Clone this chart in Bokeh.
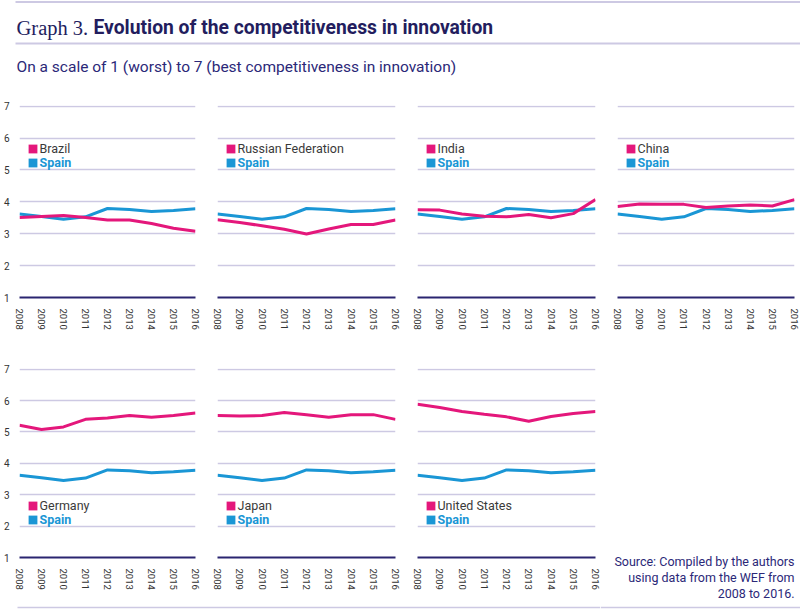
from bokeh.plotting import figure
from bokeh.models import Range1d, FixedTicker, Legend, LegendItem
from bokeh.layouts import column, row
from bokeh.embed import file_html
from bokeh.resources import INLINE
from bokeh.core.properties import value

# ---------------- data ----------------
years = [2008, 2009, 2010, 2011, 2012, 2013, 2014, 2015, 2016]
spain = [3.62, 3.54, 3.45, 3.53, 3.79, 3.76, 3.70, 3.73, 3.78]
brazil = [3.51, 3.54, 3.57, 3.51, 3.43, 3.43, 3.32, 3.17, 3.08]
russia = [3.44, 3.35, 3.25, 3.14, 2.99, 3.15, 3.29, 3.29, 3.43]
india = [3.75, 3.74, 3.62, 3.55, 3.53, 3.60, 3.50, 3.63, 4.07]
china = [3.85, 3.93, 3.92, 3.92, 3.82, 3.87, 3.90, 3.87, 4.07]
germany = [5.21, 5.08, 5.16, 5.40, 5.44, 5.52, 5.47, 5.52, 5.60]
japan = [5.52, 5.51, 5.52, 5.62, 5.55, 5.47, 5.55, 5.55, 5.40]
usa = [5.88, 5.78, 5.65, 5.56, 5.48, 5.34, 5.49, 5.59, 5.65]

country_names = ["Brazil", "Russian Federation", "India", "China",
                 "Germany", "Japan", "United States"]
country_values = [brazil, russia, india, china, germany, japan, usa]
reference_name = "Spain"

y_ticks = [1, 2, 3, 4, 5, 6, 7]
x_ticks = years

title_prefix = "Graph 3."
title_main = "Evolution of the competitiveness in innovation"
subtitle = "On a scale of 1 (worst) to 7 (best competitiveness in innovation)"
source_lines = ["Source: Compiled by the authors",
                "using data from the WEF from",
                "2008 to 2016."]

# ---------------- style ----------------
PINK = "#e4177b"
BLUE = "#1a96d5"
TITLE_NAVY = "#231d5e"
TEXT_NAVY = "#2b2878"
GRID = "#cdc9e3"
AXIS = "#2a2570"
TICK = "#333333"
SANS = "Roboto"

W_TOTAL = 800
PITCH = 200
L_BORDER = 17
FRAME_W = [178, 178, 178, 177]
ROW_TOP = [5, 23]
ROW_FRAME = [192, 191]
ROW_BOTTOM = [48, 33]
LEGEND_Y = [(141.3, 127.3), (44.1, 30.5)]


def blank(width, height, xr, yr):
    f = figure(width=width, height=height, x_range=xr, y_range=yr,
               output_backend="svg", toolbar_location=None,
               x_axis_type=None, y_axis_type=None, min_border=0)
    f.outline_line_color = None
    f.grid.visible = False
    return f


# ---------------- header ----------------
HH = 100
header = blank(W_TOTAL, HH, Range1d(0, W_TOTAL), Range1d(HH, 0))
header.segment(x0=[15, 15], y0=[1.5, 43], x1=[W_TOTAL, W_TOTAL], y1=[1.5, 43],
               line_color=GRID, line_width=1.8)
header.text(x=[16], y=[27.3], text=[title_prefix], text_font=value("Liberation Serif"),
            text_font_size="20.5px", text_color=TITLE_NAVY, text_baseline="alphabetic")
header.text(x=[93], y=[27.3], text=[title_main], text_font=value(SANS),
            text_font_style="bold", text_font_size="19.3px", text_color=TITLE_NAVY,
            text_baseline="alphabetic")
header.text(x=[16], y=[66.5], text=[subtitle], text_font=value(SANS),
            text_font_size="15.5px", text_color=TEXT_NAVY, text_baseline="alphabetic")


# ---------------- panels ----------------
def panel(name, vals, col, r):
    width = PITCH
    top, fh, bottom = ROW_TOP[r], ROW_FRAME[r], ROW_BOTTOM[r]
    p = figure(width=width, height=top + fh + bottom,
               x_range=Range1d(2008, 2016), y_range=Range1d(1, 7.02),
               output_backend="svg", toolbar_location=None,
               min_border_left=L_BORDER, min_border_right=width - L_BORDER - FRAME_W[col],
               min_border_top=top, min_border_bottom=bottom)
    p.outline_line_color = None
    p.background_fill_color = "white"
    p.xgrid.visible = False
    p.ygrid.grid_line_color = GRID
    p.ygrid.grid_line_width = 1.3

    p.xaxis.ticker = FixedTicker(ticks=x_ticks)
    p.yaxis.ticker = FixedTicker(ticks=y_ticks)
    p.xaxis.axis_line_color = AXIS
    p.xaxis.axis_line_width = 2
    for ax in (p.xaxis, p.yaxis):
        ax.major_tick_line_color = None
        ax.minor_tick_line_color = None
        ax.major_label_text_font = SANS
        ax.major_label_text_color = TICK
    p.xaxis.major_label_text_font_size = "9.5px"
    p.yaxis.major_label_text_font_size = "10px"
    p.xaxis.major_label_orientation = "vertical"
    p.xaxis.major_label_standoff = 5
    p.yaxis.axis_line_color = None
    p.yaxis.major_label_standoff = 4
    if col != 0:
        p.yaxis.visible = False

    p.line(years, spain, line_color=BLUE, line_width=3)
    p.line(years, vals, line_color=PINK, line_width=3)

    # hidden area renderers that only supply the square legend keys
    key_c = p.quad(left=years, right=years, bottom=vals, top=vals,
                   fill_color=PINK, line_color=None, visible=False)
    key_s = p.quad(left=years, right=years, bottom=spain, top=spain,
                   fill_color=BLUE, line_color=None, visible=False)

    cy, sy = LEGEND_Y[r]
    common = dict(padding=0, margin=0, spacing=0, border_line_color=None,
                  background_fill_alpha=0, glyph_width=11, glyph_height=11,
                  label_height=11, label_standoff=2,
                  label_text_font=SANS, label_text_font_size="12.5px")
    lc = Legend(items=[LegendItem(label=name, renderers=[key_c])],
                location=(7.5, cy), label_text_color="#3a3a3a", **common)
    ls = Legend(items=[LegendItem(label=reference_name, renderers=[key_s])],
                location=(7.5, sy), label_text_color=BLUE,
                label_text_font_style="bold", **common)
    p.add_layout(lc)
    p.add_layout(ls)
    return p


panels = [panel(n, v, i % 4, i // 4) for i, (n, v) in enumerate(zip(country_names, country_values))]

ROW2_H = ROW_TOP[1] + ROW_FRAME[1] + ROW_BOTTOM[1]
FH = 17

# footer rule under the three lower panels
footer_left = blank(3 * PITCH, FH, Range1d(0, 3 * PITCH), Range1d(FH, 0))
footer_left.segment(x0=[17], y0=[15], x1=[3 * PITCH], y1=[15], line_color=GRID, line_width=1.5)

# tall slot with the source note and the end of the footer rule
NH = ROW2_H + FH
note = blank(PITCH, NH, Range1d(0, PITCH), Range1d(NH, 0))
note.text(x=[194] * 3, y=[216, 232, 248], text=source_lines, text_font=value(SANS),
          text_font_size="12.5px", text_color=TEXT_NAVY, text_align="right",
          text_baseline="middle")
note.segment(x0=[0], y0=[NH - 2], x1=[PITCH], y1=[NH - 2], line_color=GRID, line_width=1.5)

layout = column(header,
                row(*panels[:4], spacing=0),
                row(column(row(*panels[4:], spacing=0), footer_left, spacing=0),
                    note, spacing=0),
                spacing=0)

open("out.html", "w").write(file_html(layout, INLINE))
